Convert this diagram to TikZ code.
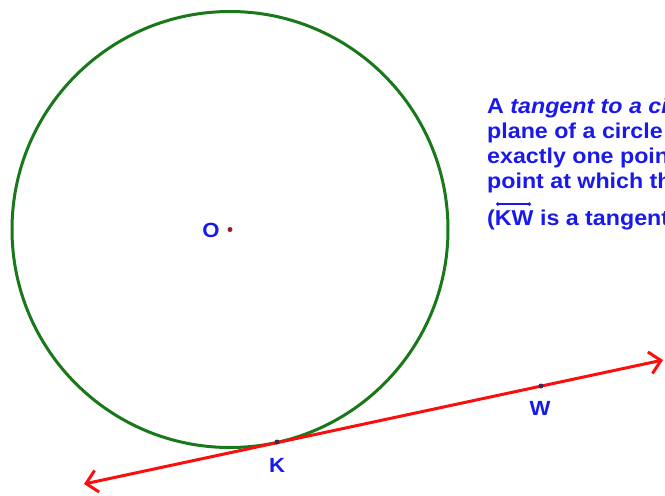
\documentclass[tikz,border=0pt]{standalone}
\usepackage{amsmath}
\usepackage{fontspec}
\setmainfont{Liberation Sans}
\newfontfamily\deffont{Liberation Sans}[FakeStretch=1.08]
\usetikzlibrary{arrows.meta}
\definecolor{circgreen}{RGB}{25,120,25}
\definecolor{txtblue}{RGB}{25,25,235}
\definecolor{linered}{RGB}{250,15,15}
\definecolor{ptred}{RGB}{150,30,30}
\definecolor{ptdark}{RGB}{70,40,70}
\tikzset{
  lbl/.style={font=\deffont\bfseries\fontsize{20.5}{22}\selectfont, text=txtblue, inner sep=0pt},
  defline/.style={font=\deffont\bfseries\fontsize{21.5}{25}\selectfont, text=txtblue, inner sep=0pt, anchor=base west},
  tanline/.style={draw=linered, line width=3pt, {Straight Barb[length=11pt,width=22pt,line width=3pt]}-{Straight Barb[length=11pt,width=22pt,line width=3pt]}},
}
\begin{document}
\begin{tikzpicture}[x=1pt,y=-1pt]
\useasboundingbox (0,0) rectangle (665,496);
\clip (0,0) rectangle (665,496);
\coordinate (O) at (230,229.5);
\coordinate (K) at (277,442);
\coordinate (W) at (541,386);
\coordinate (L) at (84,484);
\coordinate (R) at (663,360);
\draw[circgreen, line width=3pt] (O) circle[radius=218pt];
\draw[tanline] (L) -- (R);
\fill[ptred] (O) circle[radius=2.5pt];
\fill[ptdark] (K) circle[radius=2.5pt];
\fill[ptdark] (W) circle[radius=2.5pt];
\node[lbl, anchor=base] (Olbl) at (211,237) {O};
\node[lbl, anchor=base] (Klbl) at (277,472) {K};
\node[lbl, anchor=base] (Wlbl) at (540,415) {W};
\node[defline] (d1) at (487,113) {A \textit{tangent to a circle} is a line in the};
\node[defline] (d2) at (487,138) {plane of a circle that intersects the circle in};
\node[defline] (d3) at (487,163) {exactly one point. The};
\node[defline] (d4) at (487,188) {point at which they intersect is the point of tangency.};
\node[defline] (d5) at (487,225) {(KW is a tangent to the circle.)};
\coordinate (ka) at (496,204);
\coordinate (kb) at (531,204);
\draw[txtblue, line width=1.2pt, {Circle[length=3.5pt]}-{Circle[length=3.5pt]}] (ka) -- (kb);
\end{tikzpicture}
\end{document}
